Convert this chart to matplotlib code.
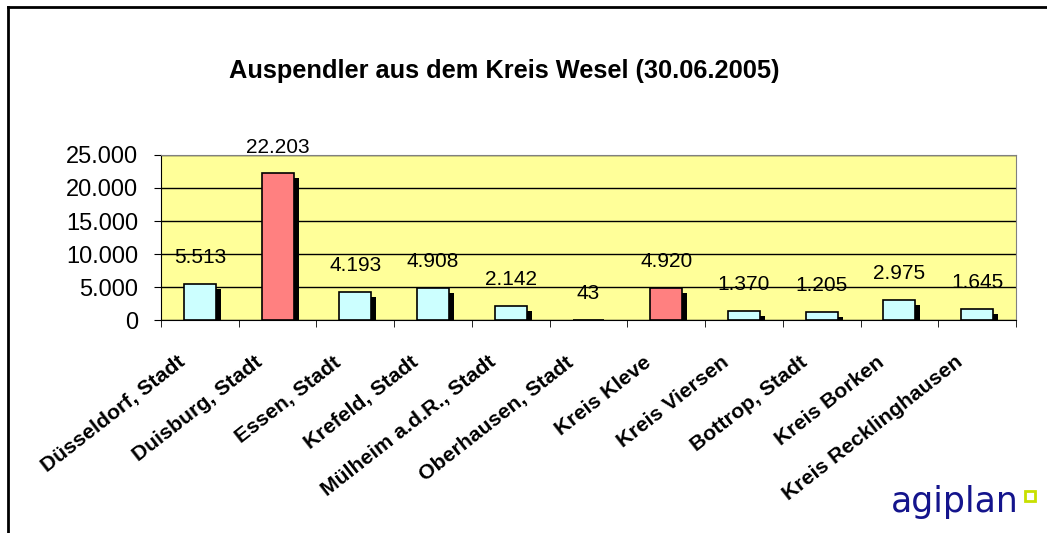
import matplotlib.pyplot as plt
import matplotlib.patheffects as pe
import matplotlib.transforms as mtransforms
from matplotlib.lines import Line2D
from matplotlib.ticker import FuncFormatter
import numpy as np

plt.rcParams['font.family'] = ['Liberation Sans', 'DejaVu Sans']

regions = ['Düsseldorf, Stadt', 'Duisburg, Stadt', 'Essen, Stadt', 'Krefeld, Stadt',
           'Mülheim a.d.R., Stadt', 'Oberhausen, Stadt', 'Kreis Kleve', 'Kreis Viersen',
           'Bottrop, Stadt', 'Kreis Borken', 'Kreis Recklinghausen']
pendler = [5513, 22203, 4193, 4908, 2142, 43, 4920, 1370, 1205, 2975, 1645]
highlight = ['Duisburg, Stadt', 'Kreis Kleve']
title = 'Auspendler aus dem Kreis Wesel (30.06.2005)'


def de_format(v, pos=None):
    return '{:,.0f}'.format(v).replace(',', '.')


fig = plt.figure(figsize=(10.47, 5.33), dpi=100)
ax = fig.add_axes([0.1538, 0.3996, 0.8166, 0.3096])
ax.set_facecolor('#FFFF99')

x = np.arange(len(regions))
colors = ['#FF8080' if r in highlight else '#CCFFFF' for r in regions]
bars = ax.bar(x, pendler, width=0.41, color=colors, edgecolor='black', linewidth=1.2,
              zorder=3)
for b in bars:
    b.set_path_effects([pe.SimplePatchShadow(offset=(3.6, -3.6), shadow_rgbFace='black',
                                             alpha=1.0), pe.Normal()])

for xi, v in zip(x, pendler):
    ax.annotate(de_format(v), (xi, v), xytext=(0, 19), textcoords='offset points',
                ha='center', va='center', fontsize=15, zorder=5)

ax.set_xlim(-0.5, len(regions) - 0.5)
ax.set_ylim(0, 25000)
ax.set_yticks(np.arange(0, 25001, 5000))
ax.yaxis.set_major_formatter(FuncFormatter(de_format))
ax.grid(axis='y', color='black', linewidth=1, zorder=1)
ax.set_axisbelow(True)

# category labels, drawn as rotated text below each bar
ax.set_xticks(x)
ax.set_xticklabels([])
lab_trans = ax.get_xaxis_transform() + mtransforms.ScaledTranslation(
    -0.17, -0.40, fig.dpi_scale_trans)
for xi, name in zip(x, regions):
    ax.text(xi, 0, name, transform=lab_trans, rotation=38, rotation_mode='anchor',
            ha='right', va='center', fontweight='bold', fontsize=15.3)
ax.set_xticks(np.arange(-0.5, len(regions)), minor=True)
ax.tick_params(axis='x', which='major', length=0)
ax.tick_params(axis='x', which='minor', length=5, direction='out')
ax.tick_params(axis='y', length=5, direction='out', labelsize=17, pad=11.5)

for s in ['top', 'right']:
    ax.spines[s].set_color('#808080')
for s in ['left', 'bottom']:
    ax.spines[s].set_color('black')

fig.text(0.482, 0.867, title, ha='center', va='center', fontsize=18.3, fontweight='bold')

# outer frame
fig.add_artist(Line2D([0.0076, 1.0], [0.987, 0.987], color='black', linewidth=2))
fig.add_artist(Line2D([0.0076, 0.0076], [0.0, 0.987], color='black', linewidth=2))

# logo
fig.text(0.851, 0.04, 'agiplan', color='#14148C', fontsize=25, family='DejaVu Sans',
         ha='left', va='baseline')
fig.add_artist(Line2D([0.984], [0.070], marker='s', markersize=7, markerfacecolor='none',
                      markeredgecolor='#C8E000', markeredgewidth=2))

fig.savefig('out.png', dpi=100)
